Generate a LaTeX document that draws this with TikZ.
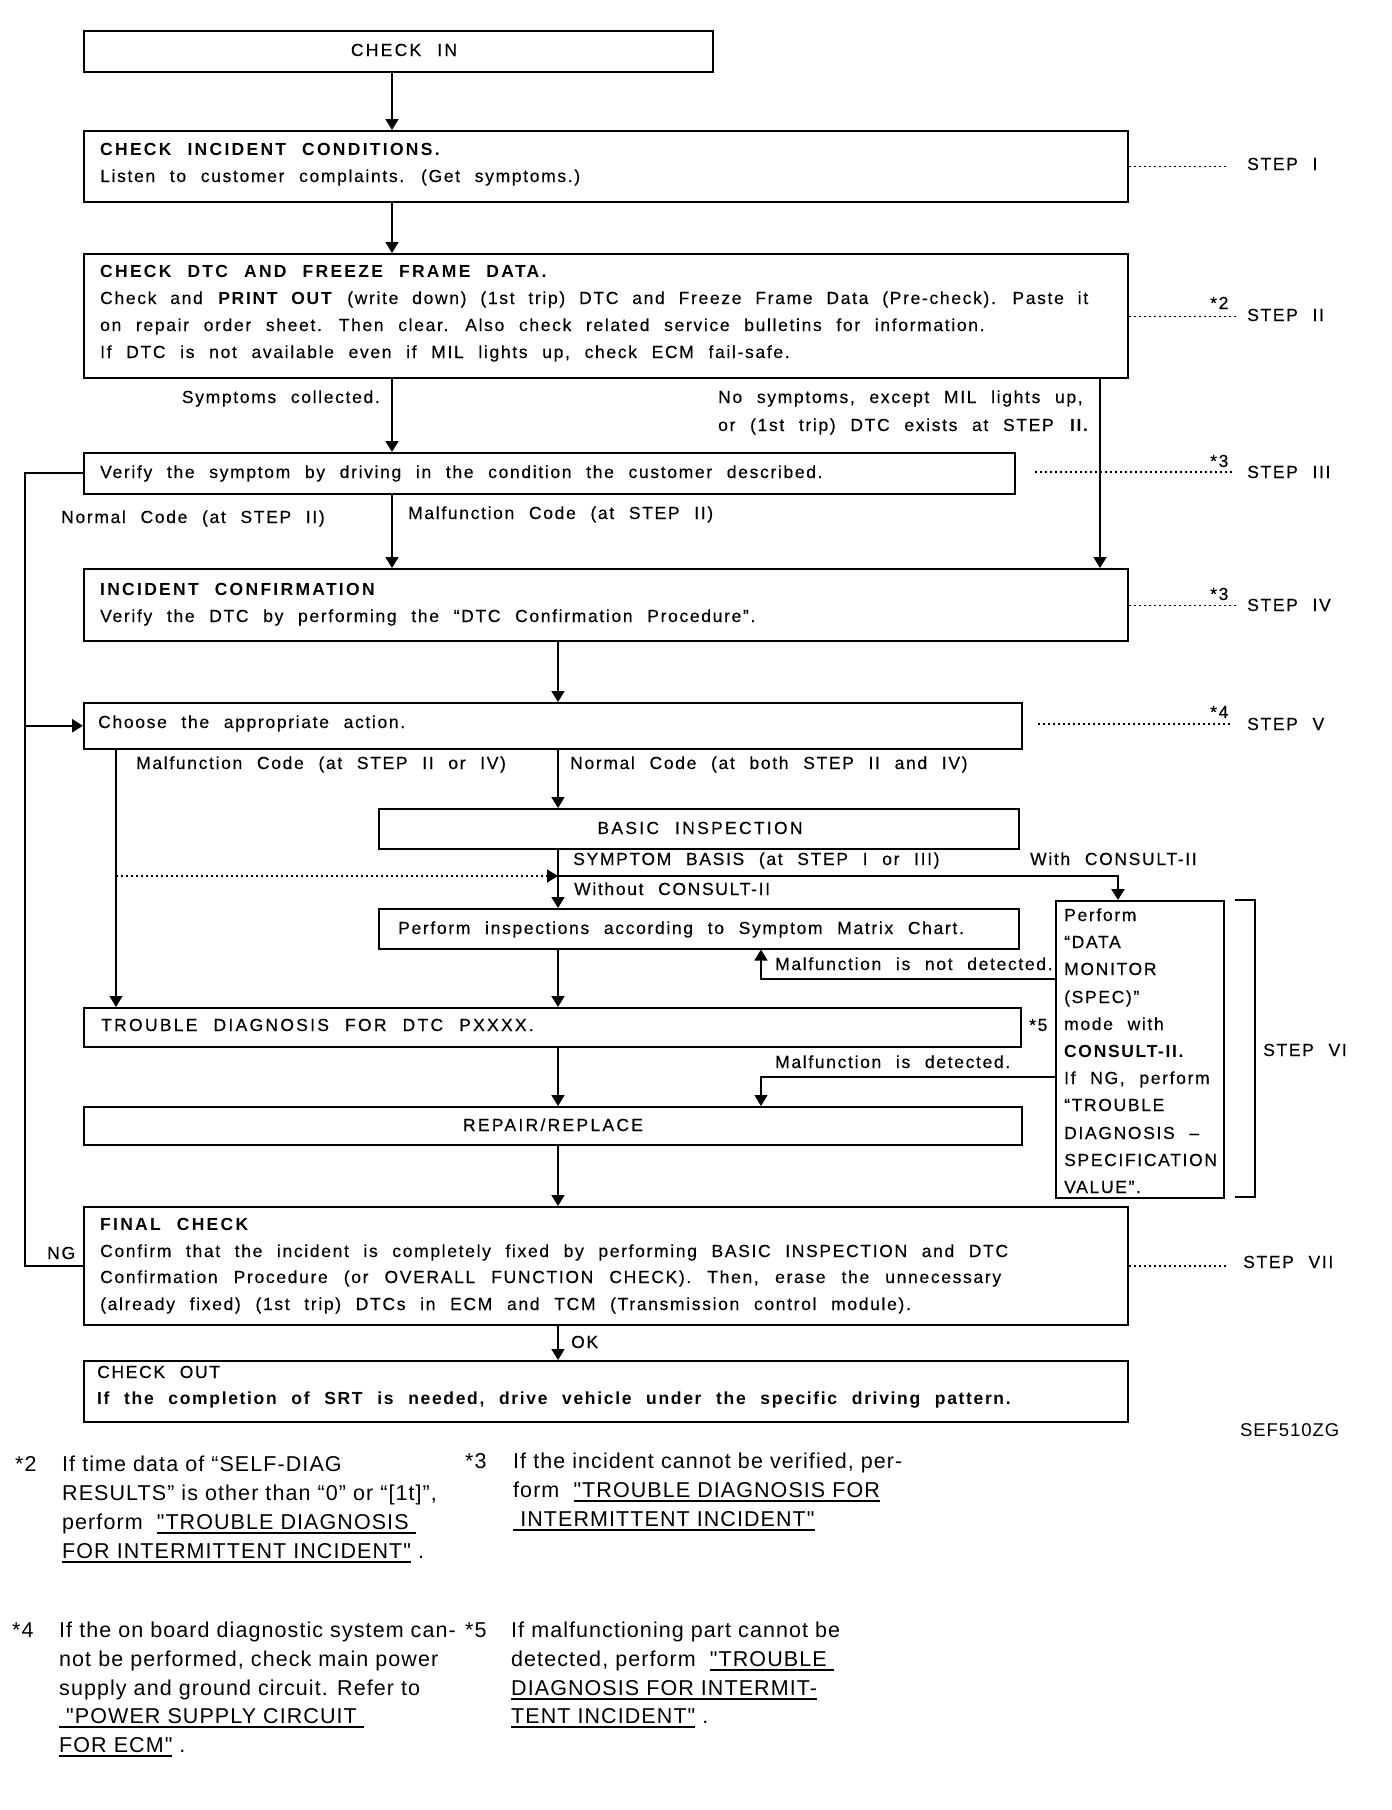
\documentclass[tikz,border=0pt]{standalone}
\usepackage{fontspec}
\setmainfont{Liberation Sans}
\newfontfamily\flowfont{Liberation Sans}[LetterSpace=9.5,WordSpace=2.25,UprightFeatures={FakeBold=0.3}]
\newfontfamily\capfont{Liberation Sans}[LetterSpace=13.0,WordSpace=2.25,UprightFeatures={FakeBold=0.3}]
\newfontfamily\notefont{Liberation Sans}[LetterSpace=5.0]
\usetikzlibrary{arrows.meta}
\newcommand\ulref[1]{\setbox0=\hbox{#1}\rlap{\rule[-4.5pt]{\wd0}{1.8pt}}\box0}
\tikzset{
  bx/.style={draw, line width=1.5pt, inner sep=0pt, rectangle, anchor=north west},
  bxt/.style={bx, line width=2.2pt},
  tx/.style={anchor=base west, inner sep=0pt, font=\flowfont\fontsize{17.5}{20}\selectfont},
  txb/.style={tx, font=\flowfont\bfseries\fontsize{17.5}{20}\selectfont},
  txc/.style={tx, font=\capfont\fontsize{17.5}{20}\selectfont},
  txt/.style={tx, font=\capfont\bfseries\fontsize{17.5}{20}\selectfont},
  nt/.style={anchor=base west, inner sep=0pt, font=\notefont\fontsize{21.5}{24}\selectfont},
  ln/.style={line width=1.8pt},
  thin/.style={line width=1.2pt},
  tip/.style={-{Triangle[width=13pt,length=11pt]}},
  arr/.style={ln, tip},
  dots/.style={line width=1.2pt, dash pattern=on 2pt off 3pt},
}
\begin{document}
\begin{tikzpicture}[x=1pt,y=-1pt]
\useasboundingbox[fill=white] (0,0) rectangle (1392,1810);
% boxes
\node[bxt, minimum width=629pt, minimum height=41pt] (checkin) at (83,30) {};
\node[bx, minimum width=1044pt, minimum height=71pt] (cic) at (83,130) {};
\node[bxt, minimum width=1044pt, minimum height=124pt] (cdtc) at (83,253) {};
\node[bx, minimum width=931pt, minimum height=41pt] (verify) at (83,452) {};
\node[bxt, minimum width=1044pt, minimum height=72pt] (iconf) at (83,568) {};
\node[bx, minimum width=938pt, minimum height=46pt] (choose) at (83,702) {};
\node[bxt, minimum width=640pt, minimum height=40pt] (basic) at (378,808) {};
\node[bx, minimum width=640pt, minimum height=40pt] (perform) at (378,908) {};
\node[bx, line width=1.8pt, minimum width=168pt, minimum height=297pt] (datamon) at (1055,900) {};
\node[bxt, minimum width=937pt, minimum height=39pt] (trouble) at (83,1007) {};
\node[bxt, minimum width=938pt, minimum height=38pt] (repair) at (83,1106) {};
\node[bx, line width=1.8pt, minimum width=1044pt, minimum height=118pt] (final) at (83,1206) {};
\node[bxt, minimum width=1044pt, minimum height=61pt] (checkout) at (83,1360) {};
% trunk coordinates
\coordinate (xa) at (392,0);
\coordinate (xb) at (558,0);
\coordinate (xr) at (1100,0);
\coordinate (xl) at (25,0);
\coordinate (xm) at (116,0);
\coordinate (xc) at (1118,0);
\coordinate (xd) at (761,0);
\coordinate (sy) at (0,876);
\coordinate (ynd) at (0,979);
\coordinate (yd) at (0,1077);
\coordinate (e1) at (1228,0);
\coordinate (e2) at (1236,0);
% connectors
\draw[arr] (xa |- checkin.south) -- (xa |- cic.north);
\draw[arr] (xa |- cic.south) -- (xa |- cdtc.north);
\draw[arr] (xa |- cdtc.south) -- (xa |- verify.north);
\draw[arr] (xr |- cdtc.south) -- (xr |- iconf.north);
\draw[arr] (xa |- verify.south) -- (xa |- iconf.north);
\draw[arr] (xb |- iconf.south) -- (xb |- choose.north);
\draw[ln] (verify.west) -- (xl |- verify.west) -- (xl |- final.west) -- (final.west);
\draw[arr, line width=2.4pt] (xl |- choose.west) -- (choose.west);
\draw[thin, tip] (xm |- choose.south) -- (xm |- trouble.north);
\draw[arr] (xb |- choose.south) -- (xb |- basic.north);
\draw[arr] (xb |- basic.south) -- (xb |- perform.north);
\draw[dots, line width=1.6pt, tip] (xm |- sy) -- (xb |- sy);
\draw[arr, line width=2.6pt] (xb |- sy) -- (xc |- sy) -- (xc |- datamon.north);
\draw[thin, tip] (datamon.west |- ynd) -- (xd |- ynd) -- (xd |- perform.south);
\draw[arr] (xb |- perform.south) -- (xb |- trouble.north);
\draw[arr] (xb |- trouble.south) -- (xb |- repair.north);
\draw[thin, tip] (datamon.west |- yd) -- (xd |- yd) -- (xd |- repair.north);
\draw[arr] (xb |- repair.south) -- (xb |- final.north);
\draw[arr] (xb |- final.south) -- (xb |- checkout.north);
% STEP dotted leaders
\coordinate (d3a) at (1035,472);
\coordinate (d3b) at (1232,472);
\coordinate (d5a) at (1038,724);
\coordinate (d5b) at (1232,724);
\draw[dots] (cic.east) -- (cic.east -| e1);
\draw[dots] (cdtc.east) -- (cdtc.east -| e2);
\draw[dots] (d3a) -- (d3b);
\draw[dots] (iconf.east) -- (iconf.east -| e2);
\draw[dots] (d5a) -- (d5b);
\draw[dots] (final.east) -- (final.east -| e1);
% bracket STEP VI
\coordinate (bt) at (1235,900);
\coordinate (bb) at (1235,1197);
\draw[ln] (bt) -- ++(20,0) coordinate (btr) -- (btr |- bb) -- (bb);
% texts
\node[txc, anchor=base] (t0) at (404,56) {CHECK IN};
\node[txt] (t1) at (100,155) {CHECK INCIDENT CONDITIONS.};
\node[tx] (t2) at (100,182) {Listen to customer complaints. (Get symptoms.)};
\node[txt] (t3) at (100,277) {CHECK DTC AND FREEZE FRAME DATA.};
\node[tx] (t4) at (100,304) {\makebox[988pt][s]{Check and \textbf{PRINT OUT} (write down) (1st trip) DTC and Freeze Frame Data (Pre-check). Paste it}};
\node[tx] (t5) at (100,331) {on repair order sheet. Then clear. Also check related service bulletins for information.};
\node[tx] (t6) at (100,358) {If DTC is not available even if MIL lights up, check ECM fail-safe.};
\node[tx, anchor=base east] (t7) at (380,403) {Symptoms collected.};
\node[tx] (t8) at (718,403) {No symptoms, except MIL lights up,};
\node[tx] (t9) at (718,431) {or (1st trip) DTC exists at STEP \textbf{II.}};
\node[tx] (t10) at (100,478) {Verify the symptom by driving in the condition the customer described.};
\node[tx] (t11) at (61,523) {Normal Code (at STEP II)};
\node[tx] (t12) at (408,519) {Malfunction Code (at STEP II)};
\node[txt] (t13) at (100,595) {INCIDENT CONFIRMATION};
\node[tx] (t14) at (100,622) {Verify the DTC by performing the “DTC Confirmation Procedure”.};
\node[tx] (t15) at (98,728) {Choose the appropriate action.};
\node[tx] (t16) at (136,769) {Malfunction Code (at STEP II or IV)};
\node[tx] (t17) at (570,769) {Normal Code (at both STEP II and IV)};
\node[txc, anchor=base] (t18) at (700,834) {BASIC INSPECTION};
\node[tx] (t19) at (573,865) {SYMPTOM BASIS (at STEP I or III)};
\node[tx] (t20) at (1030,865) {With CONSULT-II};
\node[tx] (t21) at (574,895) {Without CONSULT-II};
\node[tx] (t22) at (398,934) {Perform inspections according to Symptom Matrix Chart.};
\node[tx] (t23) at (775,970) {Malfunction is not detected.};
\node[txc] (t24) at (101,1031) {TROUBLE DIAGNOSIS FOR DTC PXXXX.};
\node[tx] (t25) at (1029,1031) {*5};
\node[tx] (t26) at (775,1068) {Malfunction is detected.};
\node[txc, anchor=base] (t27) at (553,1131) {REPAIR/REPLACE};
\node[txt] (t28) at (100,1230) {FINAL CHECK};
\node[tx] (t29) at (100,1257) {\makebox[908pt][s]{Confirm that the incident is completely fixed by performing BASIC INSPECTION and DTC}};
\node[tx] (t30) at (100,1283) {\makebox[901pt][s]{Confirmation Procedure (or OVERALL FUNCTION CHECK). Then, erase the unnecessary}};
\node[tx] (t31) at (100,1310) {(already fixed) (1st trip) DTCs in ECM and TCM (Transmission control module).};
\node[tx] (t32) at (47,1259) {NG};
\node[tx] (t33) at (571,1348) {OK};
\node[tx] (t34) at (97,1378) {CHECK OUT};
\node[txb] (t35) at (97,1404) {If the completion of SRT is needed, drive vehicle under the specific driving pattern.};
% DATA MONITOR box text
\node[tx] (dm1) at (1064,921) {Perform};
\node[tx] (dm2) at (1064,948) {“DATA};
\node[tx] (dm3) at (1064,975) {MONITOR};
\node[tx] (dm4) at (1064,1003) {(SPEC)”};
\node[tx] (dm5) at (1064,1030) {mode with};
\node[tx] (dm6) at (1064,1057) {\textbf{CONSULT-II.}};
\node[tx] (dm7) at (1064,1084) {If NG, perform};
\node[tx] (dm8) at (1064,1111) {“TROUBLE};
\node[tx] (dm9) at (1064,1139) {DIAGNOSIS –};
\node[tx] (dm10) at (1064,1166) {SPECIFICATION};
\node[tx] (dm11) at (1064,1193) {VALUE”.};
% STEP labels
\node[tx] (s1) at (1247,170) {STEP I};
\node[tx] (s2) at (1247,321) {STEP II};
\node[tx] (s3) at (1247,478) {STEP III};
\node[tx] (s4) at (1247,611) {STEP IV};
\node[tx] (s5) at (1247,730) {STEP V};
\node[tx] (s6) at (1263,1056) {STEP VI};
\node[tx] (s7) at (1243,1268) {STEP VII};
\node[tx] (a2) at (1210,309) {*2};
\node[tx] (a3) at (1210,467) {*3};
\node[tx] (a3b) at (1210,600) {*3};
\node[tx] (a4) at (1210,718) {*4};
\node[nt, font=\notefont\fontsize{18.5}{20}\selectfont] (sef) at (1240,1436) {SEF510ZG};
% footnotes
\node[nt] (f2) at (15,1471) {*2};
\node[nt] (f2a) at (62,1471) {If time data of “SELF-DIAG};
\node[nt] (f2b) at (62,1500) {RESULTS” is other than “0” or “[1t]”,};
\node[nt] (f2c) at (62,1529) {perform\ \ \ulref{"TROUBLE DIAGNOSIS }};
\node[nt] (f2d) at (62,1558) {\ulref{FOR INTERMITTENT INCIDENT"}\ .};
\node[nt] (f3) at (465,1468) {*3};
\node[nt] (f3a) at (513,1468) {If the incident cannot be verified, per-};
\node[nt] (f3b) at (513,1497) {form\ \ \ulref{"TROUBLE DIAGNOSIS FOR}};
\node[nt] (f3c) at (513,1526) {\ulref{\ INTERMITTENT INCIDENT"}};
\node[nt] (f4) at (12,1637) {*4};
\node[nt] (f4a) at (59,1637) {If the on board diagnostic system can-};
\node[nt] (f4b) at (59,1666) {not be performed, check main power};
\node[nt] (f4c) at (59,1695) {supply and ground circuit. Refer to};
\node[nt] (f4d) at (59,1723) {\ulref{\ "POWER SUPPLY CIRCUIT\ }};
\node[nt] (f4e) at (59,1752) {\ulref{FOR ECM"}\ .};
\node[nt] (f5) at (465,1637) {*5};
\node[nt] (f5a) at (511,1637) {If malfunctioning part cannot be};
\node[nt] (f5b) at (511,1666) {detected, perform\ \ \ulref{"TROUBLE\ }};
\node[nt] (f5c) at (511,1695) {\ulref{DIAGNOSIS FOR INTERMIT-}};
\node[nt] (f5d) at (511,1723) {\ulref{TENT INCIDENT"}\ .};
\end{tikzpicture}
\end{document}
